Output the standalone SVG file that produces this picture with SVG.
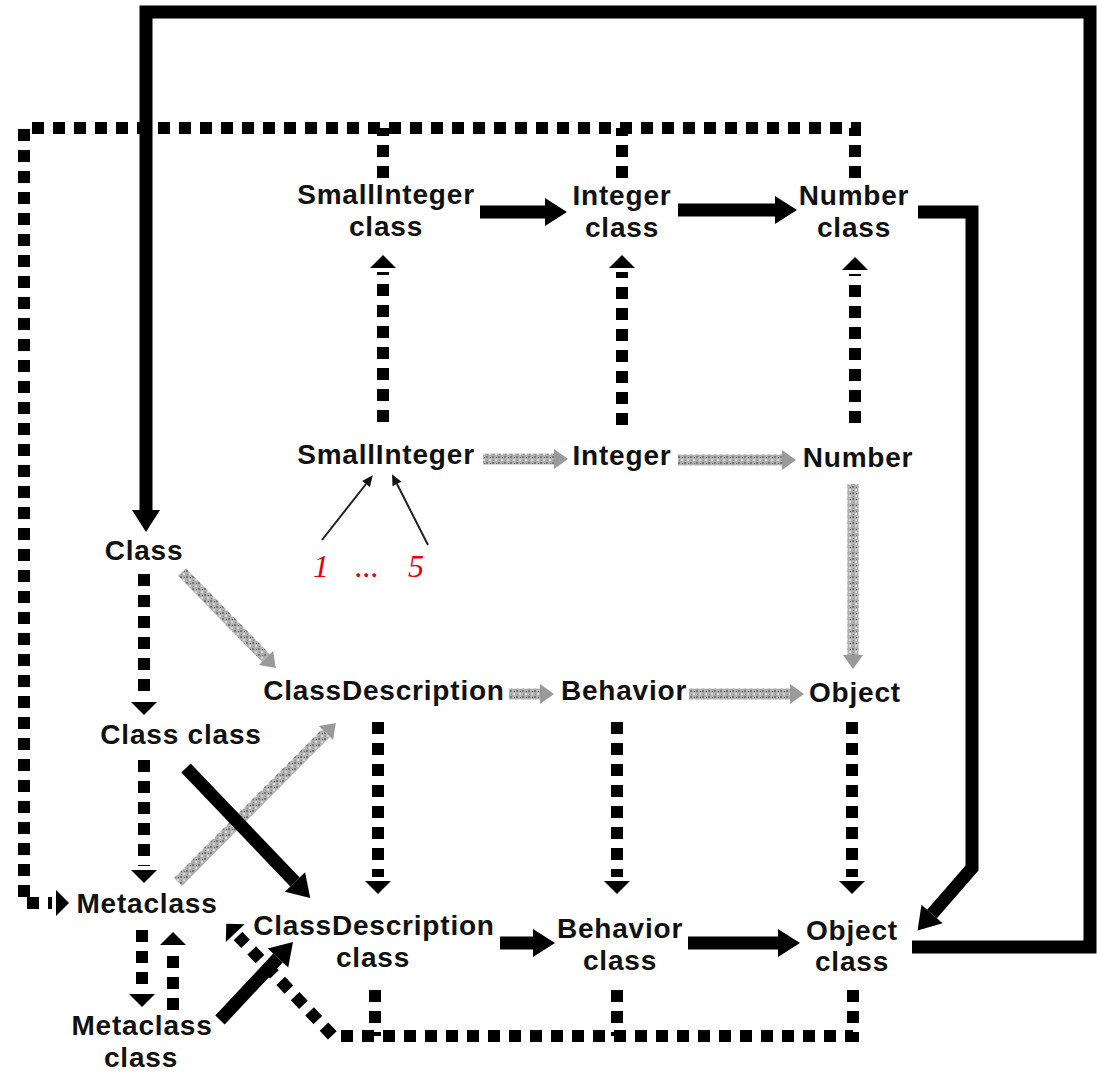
<svg xmlns="http://www.w3.org/2000/svg" width="1097" height="1074" viewBox="0 0 1097 1074">
<style>
.lbl{font-family:"Liberation Sans",Arial,sans-serif;font-weight:bold;font-size:28px;letter-spacing:0.8px;text-anchor:middle;fill:#111}
.red{font-family:"Liberation Serif","Times New Roman",serif;font-style:italic;font-size:32px;fill:#e8000b}
.solid{stroke:#000;stroke-width:13;fill:none;stroke-linejoin:miter}
.dot{stroke:#000;stroke-width:12;fill:none;stroke-dasharray:12 9}
.gray{stroke:url(#grain);stroke-width:11;fill:none}
.thin{stroke:#222;stroke-width:2;fill:none}
</style>
<defs>
<pattern id="grain" patternUnits="userSpaceOnUse" width="6" height="6">
<rect width="6" height="6" fill="#b0b0b0"/>
<rect x="0" y="0" width="2" height="2" fill="#7a7a7a"/>
<rect x="3" y="3" width="2" height="2" fill="#d8d8d8"/>
<rect x="4" y="1" width="1" height="1" fill="#666"/>
<rect x="1" y="4" width="1" height="1" fill="#8a8a8a"/>
</pattern>
<marker id="ah" markerUnits="userSpaceOnUse" markerWidth="30" markerHeight="30" refX="0" refY="15" orient="auto" overflow="visible"><path d="M0,1 L22,15 L0,29 Z" fill="#000"/></marker>
<marker id="dh" markerUnits="userSpaceOnUse" markerWidth="30" markerHeight="30" refX="0" refY="15" orient="auto" overflow="visible"><path d="M4,2 L17,15 L4,28 Z" fill="#000"/></marker>
<marker id="gh" markerUnits="userSpaceOnUse" markerWidth="24" markerHeight="24" refX="0" refY="12" orient="auto" overflow="visible"><path d="M0,2 L14,12 L0,22 Z" fill="#9a9a9a"/></marker>
<marker id="th" markerUnits="userSpaceOnUse" markerWidth="12" markerHeight="12" refX="0" refY="5" orient="auto" overflow="visible"><path d="M0,0 L11,5 L0,10 Z" fill="#111"/></marker>
</defs>
<rect width="1097" height="1074" fill="#fff"/>

<g id="connectors">
  <!-- gray: superclass links of instances -->
  <path class="gray" d="M483,459 L554,459" marker-end="url(#gh)"/>
  <path class="gray" d="M678,460 L782,460" marker-end="url(#gh)"/>
  <path class="gray" d="M853,484 L853,655" marker-end="url(#gh)"/>
  <path class="gray" d="M509,694 L540,694" marker-end="url(#gh)"/>
  <path class="gray" d="M689,694 L790,694" marker-end="url(#gh)"/>
  <path class="gray" d="M182,572 L266,658" marker-end="url(#gh)"/>
  <path class="gray" d="M178,882 L326,733" marker-end="url(#gh)"/>

  <!-- dotted: instance-of links -->
  <path class="dot" d="M855,178 L855,128 L24,128 L24,903 L52,903" marker-end="url(#dh)"/>
  <path class="dot" d="M383,178 L383,128"/>
  <path class="dot" d="M622,178 L622,128"/>
  <path class="dot" d="M383,422 L383,272" marker-end="url(#dh)"/>
  <path class="dot" d="M622,425 L622,272" marker-end="url(#dh)"/>
  <path class="dot" d="M855,423 L855,274" marker-end="url(#dh)"/>
  <path class="dot" d="M378,722 L378,877" marker-end="url(#dh)"/>
  <path class="dot" d="M617,722 L617,877" marker-end="url(#dh)"/>
  <path class="dot" d="M852,722 L852,877" marker-end="url(#dh)"/>
  <path class="dot" d="M144,574 L144,698" marker-end="url(#dh)"/>
  <path class="dot" d="M144,760 L144,866" marker-end="url(#dh)"/>
  <path class="dot" d="M142,930 L142,990" marker-end="url(#dh)"/>
  <path class="dot" d="M173,1010 L173,949" marker-end="url(#dh)"/>
  <path class="dot" d="M853,990 L853,1036 L333,1036 L238,936" marker-end="url(#dh)"/>
  <path class="dot" d="M375,990 L375,1036"/>
  <path class="dot" d="M617,990 L617,1036"/>

  <!-- solid: superclass links of classes -->
  <path class="solid" d="M912,947 L1090,947 L1090,12 L146,12 L146,510" marker-end="url(#ah)"/>
  <path class="solid" d="M918,212 L972,212 L972,868 L932,914" marker-end="url(#ah)"/>
  <path class="solid" d="M480,212 L545,212" marker-end="url(#ah)"/>
  <path class="solid" d="M678,210 L775,210" marker-end="url(#ah)"/>
  <path class="solid" d="M500,943 L533,943" marker-end="url(#ah)"/>
  <path class="solid" d="M688,943 L778,943" marker-end="url(#ah)"/>
  <path class="solid" d="M186,768 L295,882" marker-end="url(#ah)"/>
  <path class="solid" d="M220,1020 L278,958" marker-end="url(#ah)"/>

  <!-- thin annotation arrows -->
  <path class="thin" d="M322,540 L366,484" marker-end="url(#th)"/>
  <path class="thin" d="M428,545 L397,484" marker-end="url(#th)"/>
</g>

<g id="node-smallinteger-class"><text class="lbl" x="386" y="204">SmallInteger</text><text class="lbl" x="386" y="236">class</text></g>
<g id="node-integer-class"><text class="lbl" x="622" y="205">Integer</text><text class="lbl" x="622" y="237">class</text></g>
<g id="node-number-class"><text class="lbl" x="854" y="205">Number</text><text class="lbl" x="854" y="237">class</text></g>
<g id="node-smallinteger"><text class="lbl" x="386" y="464">SmallInteger</text></g>
<g id="node-integer"><text class="lbl" x="622" y="465">Integer</text></g>
<g id="node-number"><text class="lbl" x="858" y="467">Number</text></g>
<g id="node-class"><text class="lbl" x="144" y="560">Class</text></g>
<g id="node-classdescription"><text class="lbl" x="384" y="700">ClassDescription</text></g>
<g id="node-behavior"><text class="lbl" x="624" y="700">Behavior</text></g>
<g id="node-object"><text class="lbl" x="855" y="702">Object</text></g>
<g id="node-class-class"><text class="lbl" x="181" y="744">Class class</text></g>
<g id="node-metaclass"><text class="lbl" x="147" y="913">Metaclass</text></g>
<g id="node-classdescription-class"><text class="lbl" x="374" y="935">ClassDescription</text><text class="lbl" x="373" y="967">class</text></g>
<g id="node-behavior-class"><text class="lbl" x="620" y="938">Behavior</text><text class="lbl" x="620" y="970">class</text></g>
<g id="node-object-class"><text class="lbl" x="852" y="940">Object</text><text class="lbl" x="852" y="971">class</text></g>
<g id="node-metaclass-class"><text class="lbl" x="142" y="1035">Metaclass</text><text class="lbl" x="141" y="1067">class</text></g>
<g id="annotation-instances"><text class="red" y="577"><tspan x="313">1</tspan><tspan x="355">...</tspan><tspan x="408">5</tspan></text></g>
</svg>
